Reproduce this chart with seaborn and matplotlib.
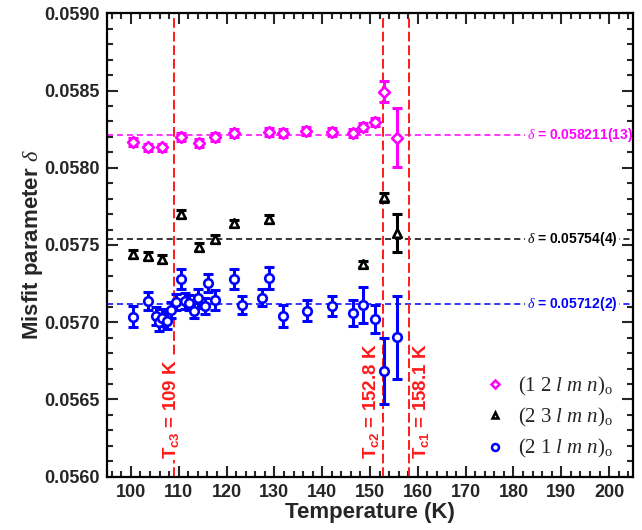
import matplotlib
matplotlib.use("Agg")
import matplotlib.pyplot as plt
import seaborn as sns
from matplotlib.lines import Line2D
from matplotlib.ticker import MultipleLocator, FormatStrFormatter

# ---- measured misfit parameter for three reflection families ----
t_12 = [100.5, 103.5, 106.6, 110.4, 114.3, 117.6, 121.6, 128.9, 131.9,
        136.6, 142.0, 146.4, 148.6, 151.1, 153.0, 155.6]
d_12 = [0.058165, 0.058132, 0.058132, 0.058201, 0.058162, 0.058201, 0.058223,
        0.058232, 0.058223, 0.058240, 0.058230, 0.058223, 0.058262, 0.058298,
        0.058492, 0.058195]
e_12 = [2.5e-5, 2.5e-5, 2.5e-5, 2.5e-5, 2.5e-5, 2.5e-5, 2.5e-5, 2.5e-5, 2.5e-5,
        2.5e-5, 2.5e-5, 2.5e-5, 2.5e-5, 2.5e-5, 6.9e-5, 1.89e-4]

t_23 = [100.5, 103.5, 106.6, 110.4, 114.3, 117.6, 121.6, 128.9, 148.6, 153.0, 155.6]
d_23 = [0.057440, 0.057431, 0.057409, 0.057699, 0.057485, 0.057539, 0.057640,
        0.057668, 0.057375, 0.057809, 0.057576]
e_23 = [2.5e-5, 2.5e-5, 2.5e-5, 2.5e-5, 2.5e-5, 2.5e-5, 2.5e-5, 2.5e-5,
        2.0e-5, 2.8e-5, 1.24e-4]

t_21 = [100.5, 103.5, 105.2, 105.9, 106.5, 107.5, 108.4, 109.4, 110.4, 111.4,
        112.2, 113.2, 114.1, 115.4, 116.2, 117.6, 121.6, 123.2, 127.4, 128.9,
        131.9, 136.8, 142.0, 146.4, 148.6, 151.1, 153.0, 155.6]
d_21 = [0.057036, 0.057139, 0.057040, 0.057000, 0.057030, 0.057010, 0.057080,
        0.057133, 0.057280, 0.057137, 0.057126, 0.057075, 0.057155, 0.057105,
        0.057256, 0.057144, 0.057278, 0.057111, 0.057159, 0.057284, 0.057040,
        0.057075, 0.057105, 0.057058, 0.057111, 0.057021, 0.056686, 0.056902]
e_21 = [6.6e-5, 5.9e-5, 5.8e-5, 5.5e-5, 5.5e-5, 5.5e-5, 5.2e-5, 5.2e-5, 6.5e-5,
        5.0e-5, 5.0e-5, 5.0e-5, 6.3e-5, 5.5e-5, 5.8e-5, 6.3e-5, 6.5e-5, 5.6e-5,
        5.4e-5, 7.1e-5, 7.1e-5, 7.0e-5, 6.5e-5, 8.4e-5, 1.15e-4, 9.1e-5,
        2.14e-4, 2.67e-4]

# weighted means shown as horizontal guides
mean_vals = [0.058211, 0.05754, 0.05712]
mean_text = ["0.058211(13)", "0.05754(4)", "0.05712(2)"]

# transition temperatures
tc_vals = [109, 152.8, 158.1]
tc_subs = ["c3", "c2", "c1"]

series_labels = [r"$\mathrm{(1\ 2\ }l\ m\ n\mathrm{)_o}$",
                 r"$\mathrm{(2\ 3\ }l\ m\ n\mathrm{)_o}$",
                 r"$\mathrm{(2\ 1\ }l\ m\ n\mathrm{)_o}$"]
colors = ["#ff00ff", "#000000", "#0000ff"]
markers = ["D", "^", "o"]
msizes = [30, 38, 38]

sns.set_theme(style="ticks")
plt.rcParams["font.family"] = ["Liberation Sans", "DejaVu Sans"]
plt.rcParams["mathtext.fontset"] = "custom"
plt.rcParams["mathtext.rm"] = "Liberation Serif"
plt.rcParams["mathtext.it"] = "Liberation Serif:italic"
plt.rcParams["mathtext.bf"] = "Liberation Sans:bold"
plt.rcParams["mathtext.sf"] = "Liberation Sans:bold"

fig = plt.figure(figsize=(6.42, 5.30), dpi=100)
ax = fig.add_axes([0.1667, 0.1006, 0.8193, 0.8743])

red = "#ff1a1a"

# horizontal mean lines with labels
for m, txt, c in zip(mean_vals, mean_text, colors):
    ax.axhline(m, color=c, lw=1.1, dashes=(4, 2.5), zorder=1)
    ax.text(182.8, m, r"$\delta$ = " + txt, color=c, fontsize=10,
            fontweight="bold", ha="left", va="center", zorder=2,
            bbox=dict(boxstyle="square,pad=0.1", fc="white", ec="none"))

# transition temperature markers
for tc, sub in zip(tc_vals, tc_subs):
    ax.axvline(tc, color=red, lw=1.4, dashes=(5, 2), zorder=1)
    lab = r"$\mathbf{T_{" + sub + r"}}$" + " = %g K" % tc
    kw = dict(color=red, rotation=90, fontsize=13.5, fontweight="bold",
              va="bottom", zorder=2)
    if sub == "c3":
        ax.text(tc - 0.6, 0.056115, lab, ha="center",
                bbox=dict(boxstyle="square,pad=0.05", fc="white", ec="none"),
                **kw)
    elif sub == "c1":
        ax.text(tc + 0.5, 0.056115, lab, ha="left", **kw)
    else:
        ax.text(tc - 0.5, 0.056115, lab, ha="right", **kw)

# data with error bars
for t, d, e, c, mk, s in zip([t_12, t_23, t_21], [d_12, d_23, d_21],
                             [e_12, e_23, e_21], colors, markers, msizes):
    ax.errorbar(t, d, yerr=e, fmt="none", ecolor=c, elinewidth=2.2,
                capsize=3.6, capthick=2.2, zorder=3)
    sns.scatterplot(x=t, y=d, ax=ax, marker=mk, s=s, facecolor="white",
                    edgecolor=c, linewidth=1.9, zorder=4)

handles = [Line2D([], [], ls="none", marker=mk, markersize=ms, mfc="white",
                  mec=c, mew=1.8)
           for mk, c, ms in zip(markers, colors, [4.5, 5, 5])]
ax.legend(handles, series_labels, loc="lower right", frameon=False,
          fontsize=15, handletextpad=0.5, labelspacing=0.4,
          borderpad=0, borderaxespad=0, handlelength=1.2,
          bbox_to_anchor=(0.962, 0.035))

ax.set_xlim(95, 205)
ax.set_ylim(0.056, 0.059)
ax.xaxis.set_major_locator(MultipleLocator(10))
ax.xaxis.set_minor_locator(MultipleLocator(2))
ax.yaxis.set_major_locator(MultipleLocator(0.0005))
ax.yaxis.set_minor_locator(MultipleLocator(0.0001))
ax.yaxis.set_major_formatter(FormatStrFormatter("%.4f"))
ax.tick_params(which="both", direction="in", top=True, right=True,
               width=1.5, labelsize=13, pad=5)
ax.tick_params(which="major", length=8)
ax.tick_params(which="minor", length=4)
for lbl in ax.get_xticklabels() + ax.get_yticklabels():
    lbl.set_fontweight("bold")
for sp in ax.spines.values():
    sp.set_linewidth(1.6)
    sp.set_color("black")

ax.set_xlabel("Temperature (K)", fontsize=16, fontweight="bold", labelpad=1)
ax.set_ylabel(r"Misfit parameter $\delta$", fontsize=16, fontweight="bold",
              labelpad=0)

fig.savefig("out.png", dpi=100)
